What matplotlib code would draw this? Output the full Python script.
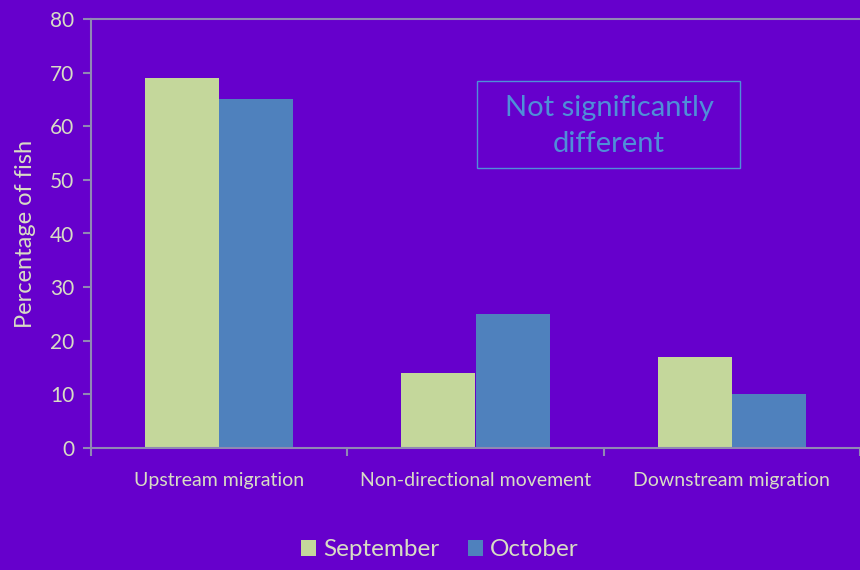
import matplotlib
matplotlib.use("Agg")
import matplotlib.pyplot as plt
import numpy as np
from matplotlib.patches import Patch, Rectangle

categories = ["Upstream migration", "Non-directional movement", "Downstream migration"]
series_names = ["September", "October"]
september = [69, 14, 17]
october = [65, 25, 10]
yticks = [0, 10, 20, 30, 40, 50, 60, 70, 80]

BG = "#6600CC"
TXT = "#D8DDC4"
AX = "#9088B4"
C_SEP = "#C4D79B"
C_OCT = "#4F81BD"
NOTE = "#4F8FD8"

plt.rcParams['font.family'] = ['Lato', 'DejaVu Sans']

fig = plt.figure(figsize=(8.6, 5.7), dpi=100, facecolor=BG)
ax = fig.add_axes([91/860, 122/570, 1 - 91/860, 429/570])
ax.set_facecolor(BG)

x = np.arange(len(categories))
w = 75/259
ax.bar(x - w/2, september, width=w, color=C_SEP, label=series_names[0], zorder=2)
ax.bar(x + w/2, october, width=w, color=C_OCT, label=series_names[1], zorder=2)

ax.set_xlim(-0.5, -0.5 + 769/259)
ax.set_ylim(0, 80)
ax.set_yticks(yticks)
ax.set_xticks(x)
ax.set_xticklabels(categories)
ax.set_xticks([-0.5, 0.5, 1.5, 2.5], minor=True)
ax.tick_params(axis='x', which='major', length=0, pad=17, labelsize=14, labelcolor=TXT)
ax.tick_params(axis='x', which='minor', length=6, color=AX, width=1.5)
ax.tick_params(axis='y', length=6, color=AX, width=1.5, labelsize=15, labelcolor=TXT, pad=6)

for s in ['left', 'top', 'bottom']:
    ax.spines[s].set_color(AX)
    ax.spines[s].set_linewidth(1.5)
ax.spines['right'].set_visible(False)

ax.set_ylabel("Percentage of fish", color=TXT, fontsize=17, labelpad=10)

fig.patches.append(Rectangle((477/860, 1 - 168/570), 263/860, 87/570, transform=fig.transFigure,
                             facecolor='none', edgecolor=NOTE, linewidth=1))
fig.text(609/860, 1 - 126/570, "Not significantly\ndifferent", ha='center', va='center',
         fontsize=21, color=NOTE, linespacing=1.45)

handles = [Patch(facecolor=C_SEP, edgecolor='none'), Patch(facecolor=C_OCT, edgecolor='none')]
leg = fig.legend(handles, series_names, loc='center', bbox_to_anchor=(440/860, 1 - 550/570),
                 ncol=2, frameon=False, fontsize=17.5, handlelength=0.62, handleheight=0.62,
                 handletextpad=0.3, columnspacing=1.15)
for t in leg.get_texts():
    t.set_color(TXT)

fig.savefig("out.png", dpi=100, facecolor=BG)
